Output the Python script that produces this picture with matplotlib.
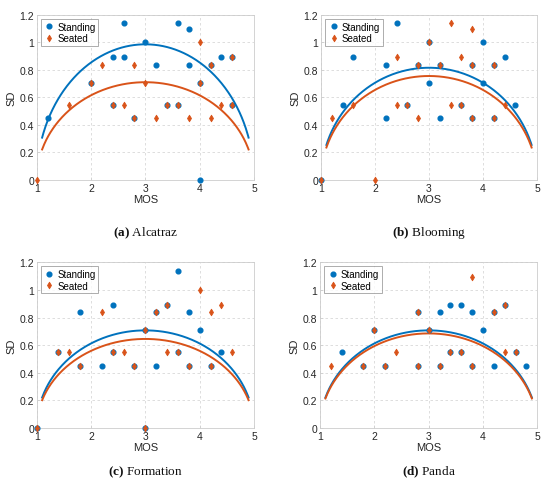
import numpy as np
import matplotlib
matplotlib.use("Agg")
import matplotlib.pyplot as plt

plt.rcParams["font.family"] = ["Liberation Sans", "DejaVu Sans"]
plt.rcParams["mathtext.fontset"] = "custom"
plt.rcParams["mathtext.rm"] = "Liberation Serif"
plt.rcParams["mathtext.bf"] = "Liberation Serif:bold"

BLUE = "#0072BD"
ORANGE = "#D95319"

titles = [("a", "Alcatraz"), ("b", "Blooming"), ("c", "Formation"), ("d", "Panda")]

# Alcatraz
a_stand_mos = [1.2, 2.0, 2.4, 2.4, 2.6, 2.6, 2.8, 3.0, 3.2, 3.4, 3.6, 3.6, 3.8, 3.8, 4.0, 4.0, 4.2, 4.4, 4.6, 4.6]
a_stand_sd = [0.447, 0.707, 0.894, 0.548, 1.14, 0.894, 0.447, 1.0, 0.837, 0.548, 1.14, 0.548, 1.095, 0.837, 0.707, 0.0, 0.837, 0.894, 0.894, 0.548]
a_seat_mos = [1.0, 1.6, 2.0, 2.2, 2.4, 2.6, 2.8, 2.8, 3.0, 3.2, 3.4, 3.6, 3.8, 4.0, 4.0, 4.2, 4.2, 4.4, 4.6, 4.6]
a_seat_sd = [0.0, 0.548, 0.707, 0.837, 0.548, 0.548, 0.837, 0.447, 0.707, 0.447, 0.548, 0.548, 0.447, 1.0, 0.707, 0.837, 0.447, 0.548, 0.894, 0.548]

# Blooming
b_stand_mos = [1.0, 1.4, 1.6, 2.2, 2.2, 2.4, 2.6, 2.8, 3.0, 3.0, 3.2, 3.2, 3.6, 3.8, 3.8, 4.0, 4.0, 4.2, 4.2, 4.4, 4.6]
b_stand_sd = [0.0, 0.548, 0.894, 0.837, 0.447, 1.14, 0.548, 0.837, 1.0, 0.707, 0.837, 0.447, 0.548, 0.837, 0.447, 1.0, 0.707, 0.837, 0.447, 0.894, 0.548]
b_seat_mos = [1.0, 1.2, 1.6, 2.0, 2.4, 2.4, 2.6, 2.8, 2.8, 3.0, 3.2, 3.4, 3.4, 3.6, 3.6, 3.8, 3.8, 3.8, 4.2, 4.2, 4.4]
b_seat_sd = [0.0, 0.447, 0.548, 0.0, 0.894, 0.548, 0.548, 0.837, 0.447, 1.0, 0.837, 1.14, 0.548, 0.894, 0.548, 1.095, 0.837, 0.447, 0.837, 0.447, 0.548]

# Formation
c_stand_mos = [1.0, 1.4, 1.8, 1.8, 2.2, 2.4, 2.4, 2.8, 3.0, 3.0, 3.2, 3.2, 3.4, 3.6, 3.6, 3.8, 3.8, 4.0, 4.2, 4.4]
c_stand_sd = [0.0, 0.548, 0.837, 0.447, 0.447, 0.894, 0.548, 0.447, 0.707, 0.0, 0.837, 0.447, 0.894, 1.14, 0.548, 0.837, 0.447, 0.707, 0.447, 0.548]
c_seat_mos = [1.0, 1.4, 1.6, 1.8, 2.2, 2.4, 2.6, 2.8, 3.0, 3.0, 3.2, 3.4, 3.4, 3.6, 3.8, 4.0, 4.2, 4.2, 4.4, 4.6]
c_seat_sd = [0.0, 0.548, 0.548, 0.447, 0.837, 0.548, 0.548, 0.447, 0.707, 0.0, 0.837, 0.894, 0.548, 0.548, 0.447, 1.0, 0.837, 0.447, 0.894, 0.548]

# Panda
d_stand_mos = [1.4, 1.8, 2.0, 2.2, 2.8, 2.8, 3.0, 3.2, 3.2, 3.4, 3.4, 3.6, 3.6, 3.8, 3.8, 4.0, 4.2, 4.2, 4.4, 4.6, 4.8]
d_stand_sd = [0.548, 0.447, 0.707, 0.447, 0.837, 0.447, 0.707, 0.837, 0.447, 0.894, 0.548, 0.894, 0.548, 0.837, 0.447, 0.707, 0.837, 0.447, 0.894, 0.548, 0.447]
d_seat_mos = [1.2, 1.8, 2.0, 2.2, 2.4, 2.8, 2.8, 3.0, 3.2, 3.4, 3.6, 3.8, 3.8, 4.2, 4.4, 4.4, 4.6]
d_seat_sd = [0.447, 0.447, 0.707, 0.447, 0.548, 0.837, 0.447, 0.707, 0.447, 0.548, 0.548, 1.095, 0.447, 0.837, 0.894, 0.548, 0.548]

# SOS fit: peak SD at MOS = 3 for each panel (standing, seated)
stand_peak = [0.985, 0.815, 0.707, 0.707]
seat_peak = [0.71, 0.755, 0.645, 0.685]

stand_mos = [a_stand_mos, b_stand_mos, c_stand_mos, d_stand_mos]
stand_sd = [a_stand_sd, b_stand_sd, c_stand_sd, d_stand_sd]
seat_mos = [a_seat_mos, b_seat_mos, c_seat_mos, d_seat_mos]
seat_sd = [a_seat_sd, b_seat_sd, c_seat_sd, d_seat_sd]

xticks = [1, 2, 3, 4, 5]
yticks = [0, 0.2, 0.4, 0.6, 0.8, 1.0, 1.2]
ytick_labels = ["0", "0.2", "0.4", "0.6", "0.8", "1", "1.2"]

fig = plt.figure(figsize=(5.5, 4.85), dpi=100)
W, H = 550.0, 485.0
boxes = [
    (36.7, 15.7, 254.0, 181.0),
    (321.0, 15.7, 537.0, 181.0),
    (36.7, 263.3, 254.0, 429.0),
    (320.0, 263.3, 537.3, 429.0),
]
caption_y = [233, 233, 472, 472]

mos_fit = np.linspace(1.1, 4.9, 300)
for i, (x0, y0, x1, y1) in enumerate(boxes):
    ax = fig.add_axes([x0 / W, 1 - y1 / H, (x1 - x0) / W, (y1 - y0) / H])
    ax.set_xlim(1, 5)
    ax.set_ylim(0, 1.2)
    ax.grid(True, linestyle=(0, (3, 3)), color="#d8d8d8", linewidth=0.6)
    ax.set_axisbelow(True)
    ax.plot(stand_mos[i], stand_sd[i], "o", color=BLUE, markersize=3.4,
            linestyle="none", label="Standing", clip_on=False, zorder=3)
    ax.plot(seat_mos[i], seat_sd[i], "d", color=ORANGE, markersize=3.5,
            markeredgewidth=0.5, linestyle="none", label="Seated",
            clip_on=False, zorder=4)
    fs = stand_peak[i] * np.sqrt((mos_fit - 1) * (5 - mos_fit) / 4.0)
    fo = seat_peak[i] * np.sqrt((mos_fit - 1) * (5 - mos_fit) / 4.0)
    ax.plot(mos_fit, fs, color=BLUE, linewidth=1.4, zorder=2)
    ax.plot(mos_fit, fo, color=ORANGE, linewidth=1.4, zorder=2)
    ax.set_xticks(xticks)
    ax.set_yticks(yticks)
    ax.set_yticklabels(ytick_labels)
    ax.tick_params(direction="in", length=2.5, width=0.5, labelsize=7.5,
                   colors="#cccccc", labelcolor="#262626", pad=2)
    for sp in ax.spines.values():
        sp.set_color("#cccccc")
        sp.set_linewidth(0.6)
    ax.set_xlabel("MOS", fontsize=8, color="#262626", labelpad=1)
    ax.set_ylabel("SD", fontsize=8, color="#262626", labelpad=2)
    leg = ax.legend(loc="upper left", fontsize=7, frameon=True, fancybox=False,
                    handletextpad=0.2, handlelength=1.2, borderpad=0.3,
                    labelspacing=0.15, borderaxespad=0.4)
    leg.get_frame().set_edgecolor("#888888")
    leg.get_frame().set_linewidth(0.6)
    cx = (x0 + x1) / 2 / W
    cy = 1 - caption_y[i] / H
    lab, name = titles[i]
    fig.text(cx, cy, r"$\mathbf{(" + lab + r")}$ " + name, ha="center", va="center",
             fontsize=9.5, family="Liberation Serif", color="#111111")

fig.savefig("out.png", dpi=100)
